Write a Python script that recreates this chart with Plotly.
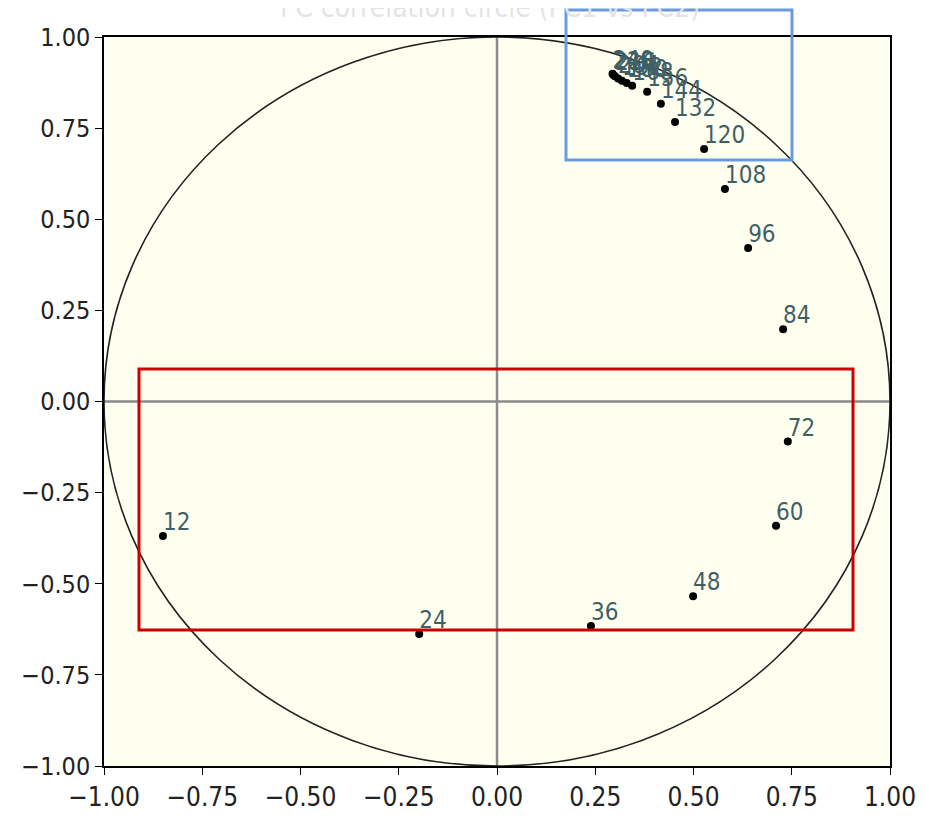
import plotly.graph_objects as go

# Data
lags = ["12", "24", "36", "48", "60", "72", "84", "96", "108", "120", "132", "144",
        "156", "168", "180", "192", "204", "216", "228", "240"]
pc1 = [-0.85, -0.198, 0.239, 0.499, 0.71, 0.74, 0.728, 0.639, 0.58, 0.527, 0.453, 0.417,
       0.382, 0.344, 0.33, 0.318, 0.308, 0.300, 0.296, 0.294]
pc2 = [-0.369, -0.638, -0.616, -0.534, -0.341, -0.110, 0.198, 0.421, 0.583, 0.693, 0.767, 0.817,
       0.850, 0.866, 0.874, 0.880, 0.886, 0.892, 0.896, 0.899]
tick_vals = [-1.0, -0.75, -0.5, -0.25, 0.0, 0.25, 0.5, 0.75, 1.0]

NARROW = "Liberation Sans Narrow, DejaVu Sans Condensed, Liberation Sans, sans-serif"

OFF = 8  # default body margin of the page
W, H = 926 - OFF, 820 - OFF
ML, MR, MT, MB = 104 - OFF, 36, 37 - OFF, 54
pw, ph = W - ML - MR, H - MT - MB

def px2paper(x, y):
    # picture pixel -> paper coords
    x -= OFF
    y -= OFF
    return (x - ML) / pw, (H - MB - y) / ph

fig = go.Figure()
fig.add_trace(go.Scatter(
    x=pc1, y=pc2, mode="markers",
    marker=dict(color="black", size=8),
    cliponaxis=False, showlegend=False, hoverinfo="skip",
))
fig.add_trace(go.Scatter(
    x=pc1, y=pc2, mode="text", text=lags,
    textposition="top right",
    textfont=dict(family=NARROW, size=24, color="#3f5f66"),
    cliponaxis=False, showlegend=False,
))

shapes = [
    dict(type="circle", xref="x", yref="y", x0=-1, y0=-1, x1=1, y1=1,
         line=dict(color="#222222", width=1.6), layer="below"),
    dict(type="line", xref="x", yref="paper", x0=0, x1=0, y0=0, y1=1,
         line=dict(color="#8a8a8a", width=2.5), layer="below"),
    dict(type="line", xref="paper", yref="y", x0=0, x1=1, y0=0, y1=0,
         line=dict(color="#8a8a8a", width=2.5), layer="below"),
]
# highlight boxes (pixel positions on the picture)
bx0, by0 = px2paper(566, 160)
bx1, by1 = px2paper(792, 10)
rx0, ry0 = px2paper(139, 630)
rx1, ry1 = px2paper(853, 369)
shapes.append(dict(type="rect", xref="paper", yref="paper", x0=bx0, x1=bx1, y0=by0, y1=by1,
                   line=dict(color="#6a9be0", width=3)))
shapes.append(dict(type="rect", xref="paper", yref="paper", x0=rx0, x1=rx1, y0=ry0, y1=ry1,
                   line=dict(color="#cc0000", width=3)))

tx, ty = px2paper(490, 8)
fig.update_layout(
    width=W, height=H,
    margin=dict(l=ML, r=MR, t=MT, b=MB),
    paper_bgcolor="white", plot_bgcolor="#fffff0",
    shapes=shapes,
    annotations=[dict(text="PC correlation circle (PC1 vs PC2)", xref="paper", yref="paper",
                      x=tx, y=ty, showarrow=False, xanchor="center", yanchor="middle",
                      font=dict(family=NARROW, size=28, color="#e4e4e4"))],
    font=dict(family=NARROW, color="#222222"),
)
axis_common = dict(
    range=[-1, 1], tickvals=tick_vals, tickformat=".2f",
    showgrid=False, zeroline=False, showline=True, linecolor="black", linewidth=1.5,
    mirror=True, ticks="outside", ticklen=7, tickcolor="black", automargin=False,
)
fig.update_xaxes(**axis_common, tickfont=dict(family=NARROW, size=26, color="#222222"))
fig.update_yaxes(**axis_common, tickfont=dict(family=NARROW, size=25, color="#222222"))

fig.write_html("out.html")
